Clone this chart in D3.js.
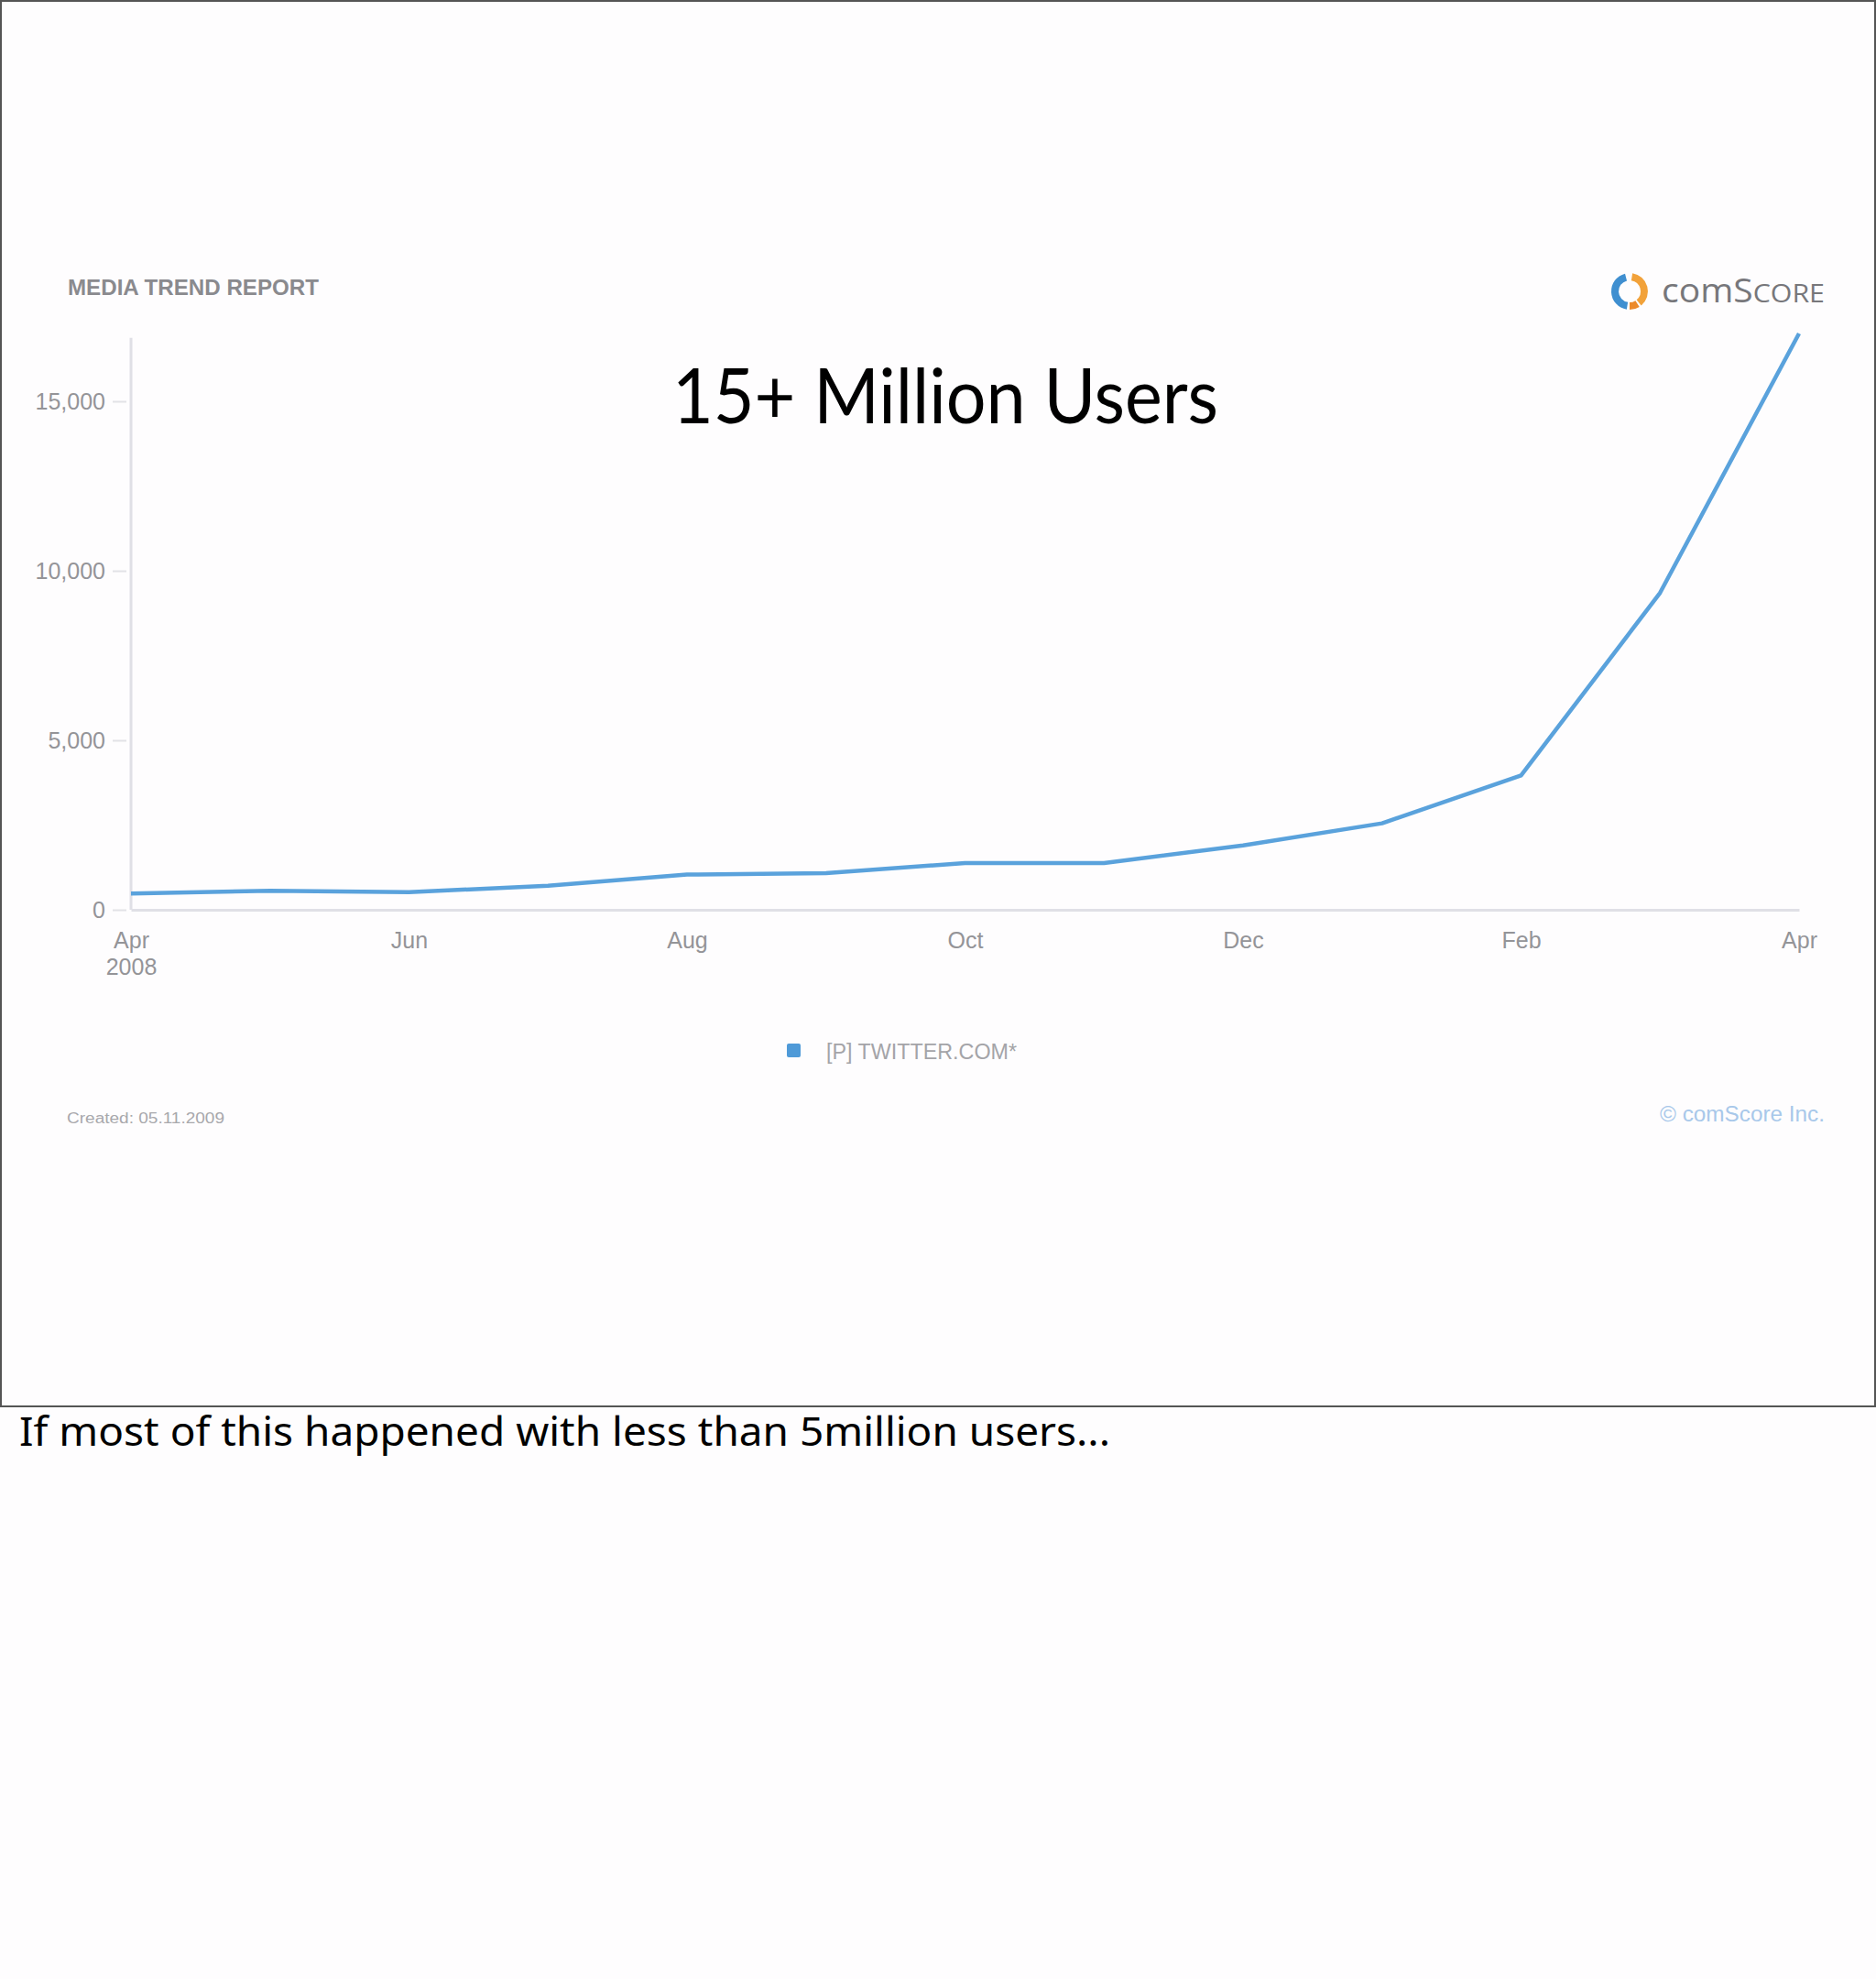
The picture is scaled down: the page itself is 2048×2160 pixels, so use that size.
<!DOCTYPE html>
<html>
<head>
<meta charset="utf-8">
<script src="https://cdn.jsdelivr.net/npm/d3@7"></script>
<style>
  html, body { margin: 0; padding: 0; background: #fefdfe; }
  svg { display: block; }
</style>
</head>
<body>
<script>
// ---- data ----
const months = ["2008-04","2008-05","2008-06","2008-07","2008-08","2008-09","2008-10","2008-11","2008-12","2009-01","2009-02","2009-03","2009-04"];
const visitors = [480, 560, 520, 710, 1040, 1080, 1380, 1380, 1900, 2550, 3960, 9350, 17000];
const yTicks = [0, 5000, 10000, 15000];
const xTickMonths = ["2008-04","2008-06","2008-08","2008-10","2008-12","2009-02","2009-04"];
const xTickLabels = ["Apr","Jun","Aug","Oct","Dec","Feb","Apr"];
const seriesName = "[P] TWITTER.COM*";

const W = 2048, H = 2160;

const svg = d3.select("body").append("svg").attr("width", W).attr("height", H);
svg.append("rect").attr("width", W).attr("height", H).attr("fill", "#fefdfe");

// slide frame
svg.append("rect").attr("x", 1).attr("y", 1).attr("width", W - 2).attr("height", 1534)
  .attr("fill", "#fefdfe").attr("stroke", "#555").attr("stroke-width", 2);

const x = d3.scalePoint().domain(months).range([143, 1964]);
const y = d3.scaleLinear().domain([0, 17000]).range([993, 364]);

const chartFont = "'Liberation Sans', Arial, sans-serif";

// header
svg.append("text").attr("x", 74).attr("y", 322).text("MEDIA TREND REPORT")
  .attr("font-family", chartFont).attr("font-weight", "bold").attr("font-size", 24)
  .attr("fill", "#8a8a8e").attr("textLength", 274).attr("lengthAdjust", "spacingAndGlyphs");

// comScore logo
const logo = svg.append("g").attr("transform", "translate(1779,318)");
const arc = d3.arc().innerRadius(12).outerRadius(20);
logo.append("path").attr("d", arc({startAngle: -Math.PI * 0.95, endAngle: -Math.PI * 0.08})).attr("fill", "#3f8fd0");
logo.append("path").attr("d", arc({startAngle: Math.PI * 0.05, endAngle: Math.PI * 0.78})).attr("fill", "#f2a23a");
logo.append("path").attr("d", arc({startAngle: Math.PI * 0.82, endAngle: Math.PI * 1.0})).attr("fill", "#ec8a2a");
const lt = svg.append("text").attr("x", 1814).attr("y", 330)
  .attr("font-family", "'Open Sans', sans-serif").attr("font-size", 36).attr("fill", "#77777b")
  .attr("textLength", 178).attr("lengthAdjust", "spacingAndGlyphs");
lt.append("tspan").text("com");
lt.append("tspan").text("S");
lt.append("tspan").attr("font-size", 28).text("CORE");

// y axis
const yAxis = d3.axisLeft(y).tickValues(yTicks).tickFormat(d3.format(",")).tickSize(20).tickPadding(8);
const gy = svg.append("g").attr("transform", "translate(143,0)").call(yAxis);
gy.select(".domain").remove();
gy.selectAll(".tick line").attr("stroke", "#e2e2e6").attr("stroke-width", 2).attr("x1", -5);
gy.selectAll(".tick text").attr("font-family", chartFont).attr("font-size", 25).attr("fill", "#949498");
svg.append("line").attr("x1", 143).attr("x2", 143).attr("y1", y(16870)).attr("y2", y(0))
  .attr("stroke", "#e0e0e6").attr("stroke-width", 3);

// x axis
const xAxis = d3.axisBottom(x).tickValues(xTickMonths).tickSize(0).tickPadding(0)
  .tickFormat((d, i) => xTickLabels[i]);
const gx = svg.append("g").attr("transform", "translate(0," + y(0) + ")").call(xAxis);
gx.select(".domain").attr("stroke", "#e0e0e6").attr("stroke-width", 3);
gx.selectAll(".tick text").attr("font-family", chartFont).attr("font-size", 25).attr("fill", "#949498")
  .attr("dy", 0).attr("y", 42);
gx.selectAll(".tick").filter((d, i) => i === 0).append("text")
  .attr("y", 71).attr("text-anchor", "middle").text("2008")
  .attr("font-family", chartFont).attr("font-size", 25).attr("fill", "#949498");

// series line
const line = d3.line().x((d, i) => x(months[i])).y(d => y(d));
svg.append("path").datum(visitors).attr("d", line).attr("fill", "none")
  .attr("stroke", "#5aa2dc").attr("stroke-width", 4.5).attr("stroke-linejoin", "round");

// title
svg.append("text").attr("x", 1032).attr("y", 462).attr("text-anchor", "middle")
  .text("15+ Million Users").attr("font-family", "Lato, 'Noto Sans', sans-serif")
  .attr("font-size", 84).attr("fill", "#000")
  .attr("textLength", 596).attr("lengthAdjust", "spacingAndGlyphs");

// legend
svg.append("rect").attr("x", 859).attr("y", 1139).attr("width", 15).attr("height", 15).attr("rx", 2)
  .attr("fill", "#4f9ad8");
svg.append("text").attr("x", 902).attr("y", 1156).text(seriesName)
  .attr("font-family", chartFont).attr("font-size", 23).attr("fill", "#a4a4a8")
  .attr("textLength", 208).attr("lengthAdjust", "spacingAndGlyphs");

// footer
svg.append("text").attr("x", 73).attr("y", 1226).text("Created: 05.11.2009")
  .attr("font-family", chartFont).attr("font-size", 16).attr("fill", "#a8a8ac")
  .attr("textLength", 172).attr("lengthAdjust", "spacingAndGlyphs");
svg.append("text").attr("x", 1812).attr("y", 1224).text("© comScore Inc.")
  .attr("font-family", chartFont).attr("font-size", 23).attr("fill", "#a8c8ea")
  .attr("textLength", 180).attr("lengthAdjust", "spacingAndGlyphs");

// caption
svg.append("text").attr("x", 21).attr("y", 1578).text("If most of this happened with less than 5million users...")
  .attr("font-family", "'Noto Sans', sans-serif").attr("font-size", 44).attr("fill", "#000")
  .attr("textLength", 1191).attr("lengthAdjust", "spacingAndGlyphs");
</script>
</body>
</html>
